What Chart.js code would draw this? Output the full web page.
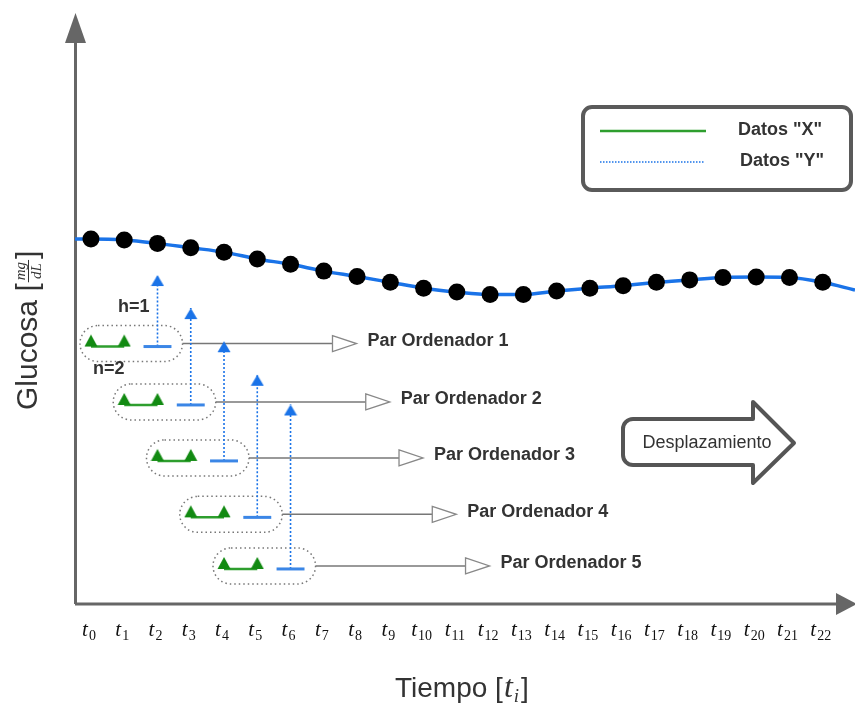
<!DOCTYPE html>
<html lang="es">
<head>
<meta charset="utf-8">
<title>Glucosa - pares ordenados</title>
<script src="https://cdn.jsdelivr.net/npm/chart.js@4.4.1/dist/chart.umd.min.js"></script>
<style>
  html, body { margin: 0; padding: 0; background: #fff; }
  #lienzo { display: block; }
</style>
</head>
<body>
<canvas id="lienzo" width="855" height="705"></canvas>
<script>
// Índices de tiempo t0 .. t22
const tiempos = [0, 1, 2, 3, 4, 5, 6, 7, 8, 9, 10, 11, 12, 13, 14, 15, 16, 17, 18, 19, 20, 21, 22];
const glucosa = [75.0, 74.8, 74.1, 73.2, 72.3, 70.9, 69.8, 68.4, 67.3, 66.1, 64.9, 64.1,
                 63.6, 63.6, 64.3, 64.9, 65.4, 66.1, 66.6, 67.1, 67.2, 67.1, 66.1];
// La curva continúa hasta los bordes del eje
const tiempoBorde = [-0.48, 22.97];
const glucosaBorde = [75.0, 64.5];

// Ventana: n datos "X", horizonte h para el dato "Y"
const n = 2;
const h = 1;
const inicioPar = [0, 1, 2, 3, 4];
const filaPar = [52.9, 40.9, 29.4, 17.8, 7.2];
const puntaFlecha = [67.6, 60.8, 54.0, 47.1, 41.0];
const nombresPar = ['Par Ordenador 1', 'Par Ordenador 2', 'Par Ordenador 3', 'Par Ordenador 4', 'Par Ordenador 5'];
const textosLeyenda = ['Datos "X"', 'Datos "Y"'];

const COLORES = { azul: '#1a73e8', verde: '#2e9e2e', verdeOsc: '#128a12', gris: '#666', texto: '#333' };
const SANS = '"Liberation Sans", Arial, sans-serif';
const SERIF = '"Liberation Serif", "Times New Roman", serif';

// Estilos de punto: triángulo verde con la base en el centro, punta de flecha azul con el vértice en el centro
function trianguloVerde() {
    const c = document.createElement('canvas');
    c.width = 14; c.height = 26;
    const g = c.getContext('2d');
    g.fillStyle = COLORES.verdeOsc;
    g.beginPath(); g.moveTo(7, 1); g.lineTo(13.5, 13); g.lineTo(0.5, 13); g.closePath(); g.fill();
    return c;
}
function puntaAzul() {
    const c = document.createElement('canvas');
    c.width = 14; c.height = 24;
    const g = c.getContext('2d');
    g.fillStyle = COLORES.azul;
    g.beginPath(); g.moveTo(7, 12); g.lineTo(13.5, 23); g.lineTo(0.5, 23); g.closePath(); g.fill();
    return c;
}
const triVerde = trianguloVerde();
const flechaAzul = puntaAzul();

const datasets = [];
datasets.push({
    type: 'scatter', label: 'muestras',
    data: tiempos.map((t, i) => ({ x: t, y: glucosa[i] })),
    pointRadius: 8.5, backgroundColor: '#000', borderWidth: 0, showLine: false
});
datasets.push({
    type: 'line', label: 'curva',
    data: [{ x: tiempoBorde[0], y: glucosaBorde[0] }, ...tiempos.map((t, i) => ({ x: t, y: glucosa[i] })), { x: tiempoBorde[1], y: glucosaBorde[1] }],
    borderColor: COLORES.azul, borderWidth: 3.5, pointRadius: 0, cubicInterpolationMode: 'monotone', fill: false
});

inicioPar.forEach((k, j) => {
    const tx = tiempos.slice(k, k + n);
    const ty = tiempos[k + n - 1 + h];
    // Datos X
    datasets.push({
        type: 'line', data: tx.map(t => ({ x: t, y: filaPar[j] })),
        borderColor: COLORES.verde, borderWidth: 2.5, pointStyle: triVerde, pointRadius: 6, fill: false
    });
    // Dato Y (segmento)
    datasets.push({
        type: 'line', data: [{ x: ty - 0.42, y: filaPar[j] }, { x: ty + 0.42, y: filaPar[j] }],
        borderColor: '#3b86e6', borderWidth: 3, pointRadius: 0, fill: false
    });
    // Flecha punteada hacia la curva
    datasets.push({
        type: 'line', data: [{ x: ty, y: filaPar[j] }, { x: ty, y: puntaFlecha[j] }],
        borderColor: COLORES.azul, borderWidth: 1.6, borderDash: [2, 2],
        pointStyle: flechaAzul, pointRadius: [0, 6], fill: false
    });
});

const diagrama = {
    id: 'diagrama',
    beforeDatasetsDraw(chart) {
        const { ctx, chartArea: a, scales: { x, y } } = chart;
        ctx.save();
        // ejes
        ctx.strokeStyle = COLORES.gris; ctx.fillStyle = COLORES.gris; ctx.lineWidth = 3;
        ctx.beginPath(); ctx.moveTo(a.left + 0.5, a.bottom); ctx.lineTo(a.left + 0.5, 40); ctx.stroke();
        ctx.beginPath(); ctx.moveTo(a.left, a.bottom); ctx.lineTo(840, a.bottom); ctx.stroke();
        ctx.beginPath(); ctx.moveTo(65, 43); ctx.lineTo(a.left + 0.5, 13); ctx.lineTo(86, 43); ctx.closePath(); ctx.fill();
        ctx.beginPath(); ctx.moveTo(836, a.bottom - 11); ctx.lineTo(857, a.bottom); ctx.lineTo(836, a.bottom + 11); ctx.closePath(); ctx.fill();

        // óvalos punteados y conectores
        inicioPar.forEach((k, j) => {
            const fila = y.getPixelForValue(filaPar[j]);
            const izq = x.getPixelForValue(tiempos[k]) - 11;
            const der = x.getPixelForValue(tiempos[k + n - 1 + h]) + 25;
            ctx.setLineDash([1.5, 3]); ctx.lineWidth = 1.5; ctx.strokeStyle = '#777';
            ctx.beginPath(); ctx.roundRect(izq, fila - 21, der - izq, 36, 18); ctx.stroke();
            ctx.setLineDash([]);
            const cy = fila - 3;
            const base = der + 150;
            ctx.strokeStyle = '#777'; ctx.lineWidth = 1.5;
            ctx.beginPath(); ctx.moveTo(der, cy); ctx.lineTo(base, cy); ctx.stroke();
            ctx.fillStyle = '#fff'; ctx.strokeStyle = '#888'; ctx.lineWidth = 1.3;
            ctx.beginPath(); ctx.moveTo(base, cy - 8); ctx.lineTo(base + 24, cy); ctx.lineTo(base, cy + 8); ctx.closePath();
            ctx.fill(); ctx.stroke();
        });
        ctx.restore();
    },
    afterDraw(chart) {
        const { ctx, scales: { x, y } } = chart;
        ctx.save();
        ctx.fillStyle = COLORES.texto;

        // etiquetas de los pares
        ctx.font = 'bold 18px ' + SANS; ctx.textBaseline = 'middle'; ctx.textAlign = 'left';
        inicioPar.forEach((k, j) => {
            const cy = y.getPixelForValue(filaPar[j]) - 3;
            const der = x.getPixelForValue(tiempos[k + n - 1 + h]) + 25;
            ctx.fillText(nombresPar[j], der + 150 + 24 + 11, cy - 2.5);
        });
        ctx.fillText('h=' + h, 118, 307);
        ctx.fillText('n=' + n, 93, 369);

        // etiquetas t_i
        ctx.textBaseline = 'alphabetic';
        tiempos.forEach(t => {
            const cx = x.getPixelForValue(t) - 2;
            ctx.font = 'italic 21px ' + SERIF;
            const wt = ctx.measureText('t').width + 1;
            ctx.font = '14px ' + SERIF;
            const ws = ctx.measureText(String(t)).width;
            const sx = cx - (wt + ws) / 2;
            ctx.fillStyle = '#111';
            ctx.font = 'italic 21px ' + SERIF;
            ctx.fillText('t', sx, 636);
            ctx.font = '14px ' + SERIF;
            ctx.fillText(String(t), sx + wt, 640);
        });

        // título eje x
        ctx.fillStyle = COLORES.texto;
        let px = 395;
        ctx.font = '28px ' + SANS;
        ctx.fillText('Tiempo [', px, 697); px += ctx.measureText('Tiempo [').width + 1;
        ctx.font = 'italic 32px ' + SERIF;
        ctx.fillText('t', px, 697); px += ctx.measureText('t').width + 1;
        ctx.font = 'italic 19px ' + SERIF;
        ctx.fillText('i', px, 702); px += ctx.measureText('i').width + 2;
        ctx.font = '28px ' + SANS;
        ctx.fillText(']', px, 697);

        // título eje y (rotado)
        ctx.save();
        ctx.translate(37, 410); ctx.rotate(-Math.PI / 2);
        ctx.font = '30px ' + SANS;
        ctx.fillText('Glucosa', 0, 0);
        let q = ctx.measureText('Glucosa ').width;
        ctx.fillText('[', q, 0); q += ctx.measureText('[').width + 1;
        ctx.font = 'italic 15px ' + SERIF;
        const wf = Math.max(ctx.measureText('mg').width, ctx.measureText('dL').width) + 4;
        ctx.textAlign = 'center';
        ctx.fillText('mg', q + wf / 2, -12);
        ctx.fillText('dL', q + wf / 2, 4);
        ctx.fillRect(q, -9, wf, 1);
        ctx.textAlign = 'left';
        q += wf + 1;
        ctx.font = '30px ' + SANS;
        ctx.fillText(']', q, 0);
        ctx.restore();

        // leyenda
        ctx.lineJoin = 'round';
        ctx.strokeStyle = '#5a5a5a'; ctx.lineWidth = 4;
        ctx.beginPath(); ctx.roundRect(583, 107, 268, 83, 9); ctx.stroke();
        ctx.strokeStyle = COLORES.verde; ctx.lineWidth = 2.5;
        ctx.beginPath(); ctx.moveTo(600, 131); ctx.lineTo(706, 131); ctx.stroke();
        ctx.strokeStyle = COLORES.azul; ctx.lineWidth = 1.5; ctx.setLineDash([1.5, 1.5]);
        ctx.beginPath(); ctx.moveTo(600, 162); ctx.lineTo(705, 162); ctx.stroke();
        ctx.setLineDash([]);
        ctx.fillStyle = COLORES.texto; ctx.font = 'bold 18px ' + SANS; ctx.textBaseline = 'middle';
        ctx.fillText(textosLeyenda[0], 738, 130);
        ctx.fillText(textosLeyenda[1], 740, 161);

        // flecha de desplazamiento
        ctx.strokeStyle = '#555'; ctx.lineWidth = 4;
        ctx.beginPath();
        ctx.moveTo(753, 419);
        ctx.lineTo(753, 402);
        ctx.lineTo(794, 443);
        ctx.lineTo(753, 483);
        ctx.lineTo(753, 465);
        ctx.arcTo(623, 465, 623, 419, 10);
        ctx.arcTo(623, 419, 753, 419, 10);
        ctx.closePath();
        ctx.stroke();
        ctx.font = '18px ' + SANS; ctx.textAlign = 'center';
        ctx.fillText('Desplazamiento', 707, 443);
        ctx.restore();
    }
};

new Chart(document.getElementById('lienzo'), {
    type: 'line',
    data: { datasets },
    options: {
        responsive: false,
        animation: false,
        events: [],
        layout: { autoPadding: false, padding: { left: 75, right: 0, top: 20, bottom: 101 } },
        scales: {
            x: { type: 'linear', display: false, min: tiempoBorde[0], max: tiempoBorde[1] },
            y: { display: false, min: 0, max: 120 }
        },
        plugins: { legend: { display: false }, tooltip: { enabled: false } }
    },
    plugins: [diagrama]
});
</script>
</body>
</html>
